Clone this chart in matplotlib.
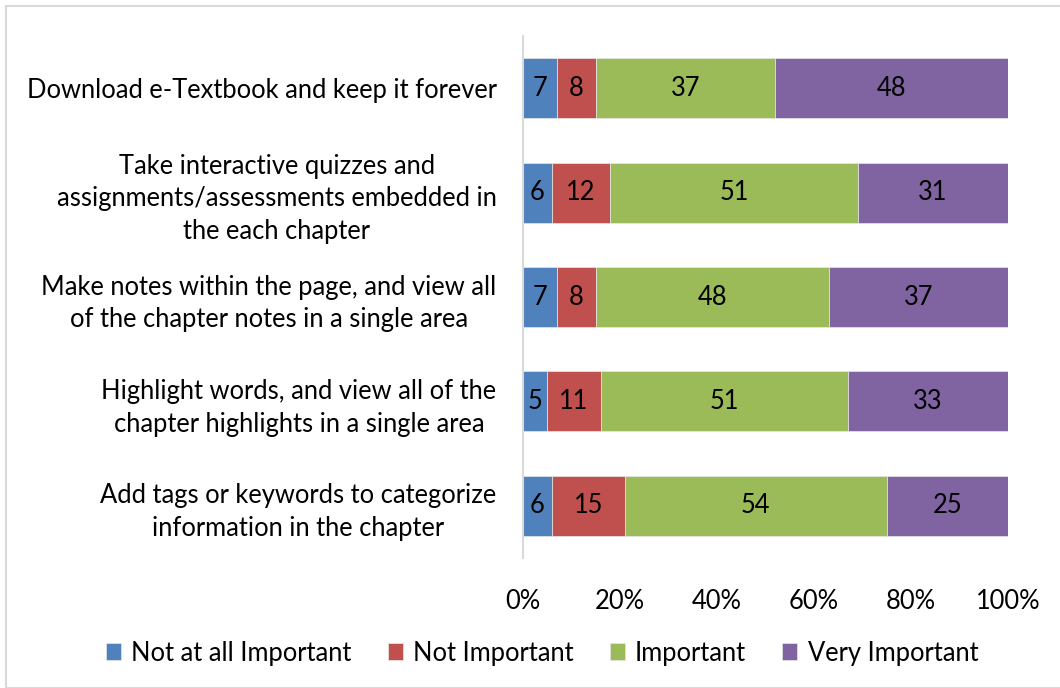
import matplotlib
matplotlib.use("Agg")
import matplotlib.pyplot as plt
from matplotlib.patches import Rectangle
from matplotlib.ticker import PercentFormatter

plt.rcParams['font.family'] = ['Lato', 'DejaVu Sans']

categories = [
    "Download e-Textbook and keep it forever",
    "Take interactive quizzes and\nassignments/assessments embedded in\nthe each chapter",
    "Make notes within the page, and view all\nof the chapter notes in a single area",
    "Highlight words, and view all of the\nchapter highlights in a single area",
    "Add tags or keywords to categorize\ninformation in the chapter",
]
series_names = ["Not at all Important", "Not Important", "Important", "Very Important"]
not_at_all = [7, 6, 7, 5, 6]
not_important = [8, 12, 8, 11, 15]
important = [37, 51, 48, 51, 54]
very_important = [48, 31, 37, 33, 25]
colors = ["#4F81BD", "#C0504D", "#9BBB59", "#8064A2"]
xticks = [0, 20, 40, 60, 80, 100]

FS = 18.4

fig = plt.figure(figsize=(10.6, 6.88), dpi=100)
ax = fig.add_axes([523/1060, 1-558/688, (1008-523)/1060, (558-36)/688])

fig.patches.append(Rectangle((6/1060, 0), 1.2, 1-6/688, transform=fig.transFigure,
                             fill=False, edgecolor="#D9D9D9", linewidth=1.5))

y = list(range(len(categories)))
left = [0]*len(categories)
for name, vals, c in zip(series_names, [not_at_all, not_important, important, very_important], colors):
    ax.barh(y, vals, left=left, height=0.574, color=c, label=name,
            edgecolor="#E8E8E8", linewidth=0.5)
    for yi, l, v in zip(y, left, vals):
        ax.text(l + v/2, yi, str(v), ha='center', va='center', fontsize=FS, color='black')
    left = [a + b for a, b in zip(left, vals)]

ax.set_xlim(0, 100)
ax.set_ylim(4.5, -0.5)
ax.set_yticks(y)
ax.set_yticklabels(categories, fontsize=FS, multialignment='center', linespacing=1.38)
ax.set_xticks(xticks)
ax.xaxis.set_major_formatter(PercentFormatter(decimals=0))
ax.tick_params(axis='x', length=0, labelsize=FS, pad=22)
ax.tick_params(axis='y', length=0, pad=19)
for s in ['top', 'right', 'bottom']:
    ax.spines[s].set_visible(False)
ax.spines['left'].set_color('#D9D9D9')
ax.spines['left'].set_linewidth(1.5)

fig.legend(loc='center', bbox_to_anchor=(542/1060, 1-653/688), ncol=4, frameon=False,
           fontsize=FS, handlelength=0.6, handleheight=0.6, handletextpad=0.4, columnspacing=1.4)

fig.savefig("out.png", dpi=100)
